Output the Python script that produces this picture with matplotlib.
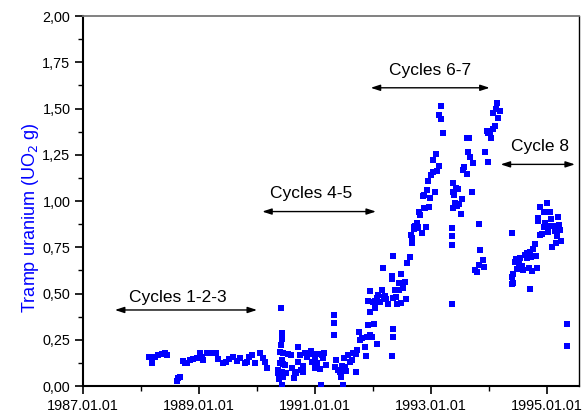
import matplotlib
matplotlib.use("Agg")
import matplotlib.pyplot as plt
from matplotlib.ticker import FixedLocator, MultipleLocator, FuncFormatter

plt.rcParams['font.family'] = ['Liberation Sans', 'DejaVu Sans']

# ---- data (decimal year, tramp uranium in g UO2) ----
c123_t = [1988.14, 1988.19, 1988.24, 1988.30, 1988.36, 1988.41, 1988.44, 1988.62, 1988.64, 1988.68,
          1988.72, 1988.76, 1988.80, 1988.84, 1988.90, 1988.96, 1989.01, 1989.05, 1989.07, 1989.13,
          1989.19, 1989.25, 1989.29, 1989.33, 1989.42, 1989.47, 1989.52, 1989.59, 1989.65, 1989.71,
          1989.79, 1989.83, 1989.87, 1989.91, 1989.97, 1990.05, 1990.11, 1990.14, 1990.17]
c123_v = [0.158, 0.123, 0.158, 0.168, 0.173, 0.177, 0.168, 0.027, 0.042, 0.050,
          0.137, 0.126, 0.123, 0.141, 0.146, 0.150, 0.177, 0.155, 0.141, 0.177,
          0.180, 0.177, 0.180, 0.144, 0.123, 0.131, 0.144, 0.158, 0.137, 0.150,
          0.123, 0.131, 0.158, 0.166, 0.126, 0.177, 0.150, 0.131, 0.096]

c45_t = [1990.41, 1990.43, 1990.43, 1990.41, 1990.40, 1990.44, 1990.43, 1990.40, 1990.45, 1990.48,
         1990.37, 1990.37, 1990.43, 1990.50, 1990.38, 1990.43, 1990.45, 1990.54, 1990.58, 1990.60,
         1990.63, 1990.66, 1990.68, 1990.70, 1990.71, 1990.74, 1990.75, 1990.79, 1990.80, 1990.83,
         1990.86, 1990.88, 1990.93, 1990.94, 1990.96, 1991.00, 1991.00, 1991.03, 1991.06, 1991.09,
         1991.10, 1991.12, 1991.16, 1991.14, 1991.19, 1991.32, 1991.33, 1991.33, 1991.34, 1991.37,
         1991.40, 1991.43, 1991.44, 1991.49, 1991.46, 1991.50, 1991.52, 1991.53, 1991.57, 1991.60,
         1991.63, 1991.66, 1991.71, 1991.71, 1991.73, 1991.76, 1991.78, 1991.81, 1991.86, 1991.88,
         1991.92, 1991.94, 1991.98, 1992.01, 1992.07, 1991.89]
c45_v = [0.423, 0.285, 0.252, 0.222, 0.185, 0.180, 0.141, 0.126, 0.119, 0.114,
         0.086, 0.069, 0.077, 0.069, 0.036, 0.005, 0.050, 0.173, 0.168, 0.096,
         0.042, 0.077, 0.069, 0.209, 0.131, 0.168, 0.086, 0.108, 0.077, 0.177,
         0.158, 0.173, 0.189, 0.131, 0.173, 0.096, 0.158, 0.126, 0.173, 0.090,
         0.005, 0.168, 0.180, 0.150, 0.114, 0.384, 0.342, 0.276, 0.104, 0.141,
         0.086, 0.077, 0.050, 0.005, 0.108, 0.150, 0.104, 0.083, 0.168, 0.131,
         0.141, 0.177, 0.077, 0.173, 0.195, 0.294, 0.249, 0.258, 0.209, 0.162,
         0.330, 0.276, 0.266, 0.334, 0.225, 0.266]

c67_t = [1991.94, 1991.92, 1991.95, 1992.00, 1992.03, 1992.06, 1992.09, 1992.12, 1992.15, 1992.17,
         1992.19, 1992.22, 1992.25, 1992.32, 1992.32, 1992.35, 1992.37, 1992.39, 1992.41, 1992.44,
         1992.45, 1992.48, 1992.51, 1992.55, 1992.57, 1992.59, 1992.63, 1992.65, 1992.67, 1992.68,
         1992.70, 1992.72, 1992.75, 1992.74, 1992.76, 1992.80, 1992.81, 1992.84, 1992.88, 1992.91,
         1992.97, 1992.93, 1992.87, 1992.86, 1992.98, 1992.90, 1993.06, 1992.95, 1993.00, 1993.03,
         1993.10, 1993.13, 1993.04, 1993.09, 1993.20, 1993.18, 1993.14, 1993.17, 1992.78, 1992.71,
         1992.49, 1993.36, 1992.35, 1992.35, 1992.32, 1992.03, 1992.05, 1992.21, 1992.35,
         1993.62, 1993.66, 1993.64, 1993.67, 1993.73, 1993.57, 1993.55, 1993.62, 1993.37, 1993.43,
         1993.47, 1993.37, 1993.40, 1993.53, 1993.70, 1993.41, 1993.49, 1993.45, 1993.38, 1993.51,
         1993.82, 1993.36, 1993.36, 1993.36, 1993.84, 1993.89, 1993.83, 1993.91, 1993.76, 1993.79,
         1994.13, 1994.12, 1994.18, 1994.07, 1994.16, 1994.10, 1994.06, 1994.02, 1993.96, 1993.99,
         1994.03, 1993.93, 1993.99]
c67_v = [0.515, 0.461, 0.398, 0.456, 0.459, 0.477, 0.492, 0.456, 0.519, 0.639,
         0.479, 0.469, 0.443, 0.578, 0.595, 0.704, 0.519, 0.479, 0.443, 0.555,
         0.519, 0.604, 0.528, 0.564, 0.469, 0.663, 0.699, 0.816, 0.798, 0.775,
         0.849, 0.865, 0.883, 0.858, 0.852, 0.942, 0.924, 0.829, 0.961, 0.858,
         0.966, 1.059, 1.032, 1.027, 1.015, 0.961, 1.047, 1.110, 1.141, 1.155,
         1.164, 1.191, 1.222, 1.254, 1.369, 1.442, 1.465, 1.514, 0.861, 0.858,
         0.447, 0.443, 0.306, 0.266, 0.164, 0.420, 0.452, 0.486, 0.474,
         1.342, 1.342, 1.263, 1.239, 1.207, 1.182, 1.168, 1.144, 1.096, 1.072,
         1.065, 1.047, 1.032, 1.009, 1.047, 0.991, 0.982, 0.973, 0.961, 0.928,
         0.874, 0.856, 0.811, 0.762, 0.735, 0.681, 0.654, 0.642, 0.627, 0.618,
         1.531, 1.497, 1.488, 1.474, 1.447, 1.405, 1.388, 1.375, 1.380, 1.369,
         1.339, 1.266, 1.209]

c8_t = [1995.00, 1994.87, 1994.94, 1995.05, 1994.85, 1994.85, 1995.18, 1995.07, 1994.97, 1995.00,
        1994.95, 1995.04, 1995.11, 1995.21, 1995.14, 1995.22, 1995.02, 1994.91, 1994.88, 1995.17,
        1995.24, 1995.16, 1995.09, 1994.40, 1994.79, 1994.76, 1994.71, 1994.65, 1994.62, 1994.81,
        1994.72, 1994.66, 1994.53, 1994.47, 1994.45, 1994.51, 1994.56, 1994.49, 1994.58, 1994.68,
        1994.74, 1994.83, 1994.42, 1994.40, 1994.42, 1994.39, 1994.70, 1995.34, 1995.34]
c8_v = [0.991, 0.969, 0.942, 0.942, 0.906, 0.892, 0.915, 0.901, 0.879, 0.865,
        0.861, 0.865, 0.866, 0.869, 0.839, 0.843, 0.834, 0.822, 0.816, 0.811,
        0.784, 0.771, 0.750, 0.825, 0.768, 0.739, 0.726, 0.717, 0.708, 0.704,
        0.699, 0.694, 0.690, 0.685, 0.672, 0.659, 0.649, 0.631, 0.627, 0.639,
        0.623, 0.636, 0.605, 0.591, 0.558, 0.551, 0.524, 0.335, 0.216]

# annotations: (label, arrow start, arrow end, arrow level, text x, text y)
cycle_labels = ["Cycles 1-2-3", "Cycles 4-5", "Cycles 6-7", "Cycle 8"]
arrow_start = [1987.55, 1990.09, 1991.96, 1994.20]
arrow_end = [1990.00, 1992.05, 1994.01, 1995.48]
arrow_level = [0.411, 0.943, 1.612, 1.198]
label_x = [1988.64, 1990.93, 1992.98, 1994.88]
label_y = [0.481, 1.038, 1.703, 1.297]

x_major = [1987, 1989, 1991, 1993, 1995]
x_labels = ["1987.01.01", "1989.01.01", "1991.01.01", "1993.01.01", "1995.01.01"]

fig = plt.figure(figsize=(5.82, 4.17), dpi=100)
ax = fig.add_axes([0.1426, 0.0743, 0.8522, 0.8873])

for t, v in [(c123_t, c123_v), (c45_t, c45_v), (c67_t, c67_v), (c8_t, c8_v)]:
    ax.scatter(t, v, marker='s', s=15, color='#0000ff', linewidths=0, zorder=3)

for lab, a0, a1, lv, tx, ty in zip(cycle_labels, arrow_start, arrow_end, arrow_level, label_x, label_y):
    ax.annotate('', xy=(a1, lv), xytext=(a0, lv),
                arrowprops=dict(arrowstyle='<|-|>,head_length=0.55,head_width=0.18',
                                color='black', lw=1.0, shrinkA=0, shrinkB=0))
    ax.text(tx, ty, lab, ha='center', va='center', fontsize=12.5, color='black')

ax.set_xlim(1987, 1995.55)
ax.set_ylim(0, 2.0)
ax.xaxis.set_major_locator(FixedLocator(x_major))
ax.set_xticklabels(x_labels)
ax.xaxis.set_minor_locator(MultipleLocator(1))
ax.yaxis.set_major_locator(MultipleLocator(0.25))
ax.yaxis.set_minor_locator(MultipleLocator(0.125))
ax.yaxis.set_major_formatter(FuncFormatter(lambda v, p: f"{v:.2f}".replace('.', ',')))
ax.tick_params(which='major', direction='out', length=6, width=1.2, labelsize=10.4, pad=3)
ax.tick_params(which='minor', direction='out', length=3.5, width=1.0)
ax.tick_params(top=False, right=False)

for s in ['left', 'bottom']:
    ax.spines[s].set_linewidth(1.5)
    ax.spines[s].set_color('black')
ax.spines['top'].set_color('#777777')
ax.spines['top'].set_linewidth(1.3)
ax.spines['right'].set_color('black')
ax.spines['right'].set_linewidth(1.0)

ax.set_ylabel('Tramp uranium (UO$_2$ g)', color='#0000ff', fontsize=13, va='center')
ax.yaxis.set_label_coords(-0.105, 0.455)

fig.savefig('out.png', dpi=100)
